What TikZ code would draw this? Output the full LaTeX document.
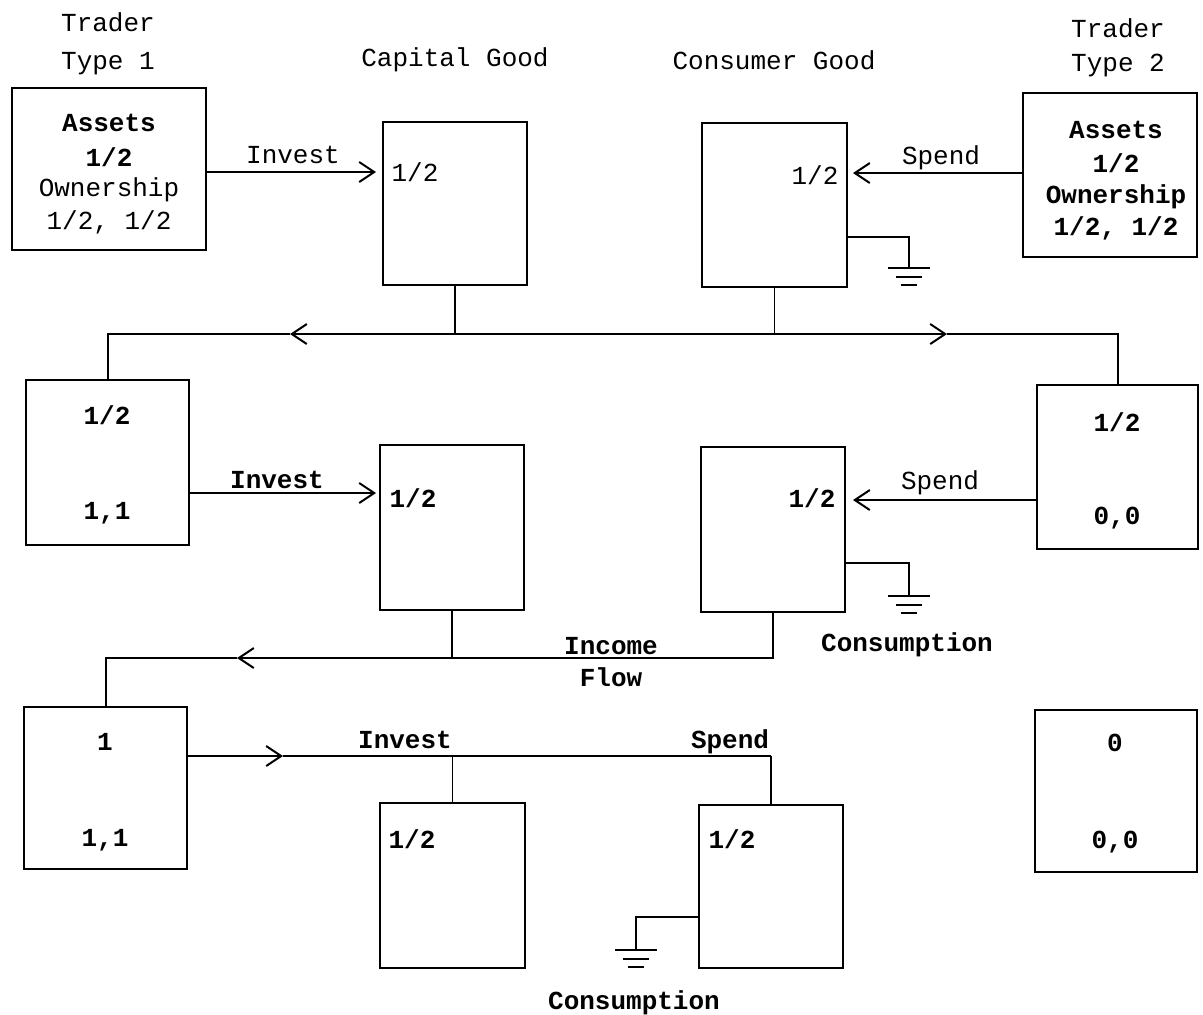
\documentclass[tikz,border=0pt]{standalone}
\usepackage{fontspec}
\setmainfont{Liberation Mono}
\usetikzlibrary{arrows.meta}
\begin{document}
\begin{tikzpicture}[x=0.5pt,y=-0.5pt,
  box/.style 2 args={draw, line width=1.2pt, minimum width=#1*0.5pt, minimum height=#2*0.5pt, inner sep=0pt},
  txt/.style={inner sep=0pt, font=\fontsize{13}{16}\selectfont},
  btxt/.style={inner sep=0pt, font=\fontsize{13}{16}\selectfont\bfseries},
  wire/.style={line width=1pt},
  thinwire/.style={line width=0.8pt},
  arr/.style={line width=1pt, -{Straight Barb[length=7.5pt,width=10pt]}},
  gnd/.style={line width=1.4pt},
  ground/.pic={
    \draw[gnd] (-21,0) -- (21,0);
    \draw[gnd] (-13,9) -- (13,9);
    \draw[gnd] (-8,17) -- (8,17);}]
\useasboundingbox (0,0) rectangle (1203,1014);

% ---------- column titles ----------
\node[txt, align=center, font=\fontsize{13}{19}\selectfont] (tt1) at (108,44) {Trader\\Type 1};
\node[txt] (tcap) at (455,60) {Capital Good};
\node[txt] (tcon) at (774,60) {Consumer Good};
\node[txt, align=center, font=\fontsize{13}{17}\selectfont] (tt2) at (1118,48) {Trader\\Type 2};

% ---------- row 1 ----------
\node[box={194}{162}] (t1) at (109,169) {};
\node[btxt] (t1a) at (109,123) {Assets};
\node[btxt] (t1b) at (109,157) {1/2};
\node[txt]  (t1c) at (109,190) {Ownership};
\node[txt]  (t1d) at (109,222) {1/2, 1/2};

\node[box={144}{163}] (cap1) at (455,203.5) {};
\node[txt] (cap1v) at (415,172) {1/2};
\node[box={145}{164}] (con1) at (774.5,205) {};
\node[txt] (con1v) at (815,175) {1/2};

\node[box={174}{164}] (t2) at (1110,175) {};
\node[btxt] (t2a) at (1116,130) {Assets};
\node[btxt] (t2b) at (1116,163) {1/2};
\node[btxt] (t2c) at (1116,197) {Ownership};
\node[btxt] (t2d) at (1116,228) {1/2, 1/2};

\coordinate (inv1) at (376,172);
\draw[arr] (t1.east |- inv1) -- (inv1);
\node[txt] (inv1l) at (293,155) {Invest};

\coordinate (sp1) at (853,173);
\draw[arr] (t2.west |- sp1) -- (sp1);
\node[txt] (sp1l) at (941,158) {Spend};

\coordinate (g1a) at (909,237);
\coordinate (g1) at (909,268);
\draw[wire] (con1.east |- g1a) -- (g1a) -- (g1);
\pic at (g1) {ground};

% ---------- row 2 ----------
\node[box={163}{165}] (l2) at (107.5,462.5) {};
\node[btxt] (l2a) at (107,415) {1/2};
\node[btxt] (l2b) at (107,513) {1,1};

\node[box={144}{165}] (cap2) at (452,527.5) {};
\node[btxt] (cap2v) at (413,498) {1/2};
\node[box={144}{165}] (con2) at (773,529.5) {};
\node[btxt] (con2v) at (812,498) {1/2};

\node[box={161}{164}] (r2) at (1117.5,467) {};
\node[btxt] (r2a) at (1117,422) {1/2};
\node[btxt] (r2b) at (1117,518) {0,0};

% connector row 1 -> row 2
\coordinate (cL) at (108,334);
\coordinate (cR) at (1118,334);
\coordinate (j1) at (cap1.south |- cL);
\coordinate (j2) at (con1.south |- cL);
\coordinate (aL) at (290,334);
\coordinate (aR) at (947,334);
\draw[thinwire] (cap1.south) -- (j1);
\draw[thinwire] (con1.south) -- (j2);
\draw[arr] (j1) -- (aL);
\draw[wire] (aL) -- (cL) -- (l2.north -| cL);
\draw[arr] (j1) -- (aR);
\draw[wire] (aR) -- (cR) -- (r2.north -| cR);

\coordinate (inv2) at (376,493);
\draw[arr] (l2.east |- inv2) -- (inv2);
\node[btxt] (inv2l) at (277,480) {Invest};

\coordinate (sp2) at (853,500);
\draw[arr] (r2.west |- sp2) -- (sp2);
\node[txt] (sp2l) at (940,483) {Spend};

\coordinate (g2a) at (909,563);
\coordinate (g2) at (909,596);
\draw[wire] (con2.east |- g2a) -- (g2a) -- (g2);
\pic at (g2) {ground};
\node[btxt] (cons2) at (907,645) {Consumption};

% ---------- row 3 ----------
\node[box={163}{162}] (l3) at (105.5,788) {};
\node[btxt] (l3a) at (105,742) {1};
\node[btxt] (l3b) at (105,840) {1,1};

\node[box={145}{165}] (cap3) at (452.5,885.5) {};
\node[btxt] (cap3v) at (412,839) {1/2};
\node[box={144}{163}] (con3) at (771,886.5) {};
\node[btxt] (con3v) at (732,839) {1/2};

\node[box={162}{162}] (r3) at (1116,791) {};
\node[btxt] (r3a) at (1115,743) {0};
\node[btxt] (r3b) at (1115,842) {0,0};

% income flow row 2 -> row 3
\coordinate (cL3) at (106,658);
\coordinate (k1) at (cap2.south |- cL3);
\coordinate (k2) at (con2.south |- cL3);
\coordinate (bL) at (237,658);
\draw[thinwire] (cap2.south) -- (k1);
\draw[wire] (con2.south) -- (k2) -- (k1);
\draw[arr] (k1) -- (bL);
\draw[wire] (bL) -- (cL3) -- (l3.north -| cL3);
\node[btxt] (inc1) at (611,646) {Income};
\node[btxt] (inc2) at (611,677) {Flow};

% invest / spend row 3
\coordinate (dR) at (283,756);
\coordinate (m1) at (cap3.north |- dR);
\coordinate (m2) at (con3.north |- dR);
\draw[arr] (l3.east |- dR) -- (dR);
\draw[wire] (dR) -- (m2);
\draw[thinwire] (m1) -- (cap3.north);
\draw[thinwire] (m2) -- (con3.north);
\node[btxt] (inv3l) at (405,740) {Invest};
\node[btxt] (sp3l) at (730,742) {Spend};

\coordinate (g3a) at (636,917);
\coordinate (g3) at (636,950);
\draw[wire] (con3.west |- g3a) -- (g3a) -- (g3);
\pic at (g3) {ground};
\node[btxt] (cons3) at (634,1003) {Consumption};

\end{tikzpicture}
\end{document}
